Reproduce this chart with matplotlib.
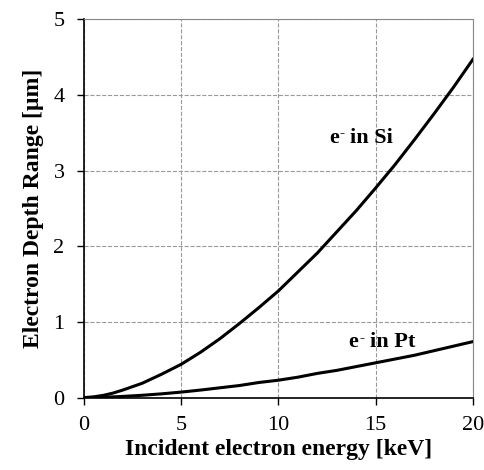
import matplotlib
matplotlib.use("Agg")
import matplotlib.pyplot as plt
from matplotlib.transforms import offset_copy

energy_kev = [0, 0.5, 1, 1.5, 2, 3, 4, 5, 6, 7, 8, 9, 10,
              11, 12, 13, 14, 15, 16, 17, 18, 19, 20]
depth_si = [0, 0.01, 0.03, 0.06, 0.10, 0.19, 0.31, 0.44, 0.60, 0.78, 0.98, 1.19, 1.41,
            1.66, 1.91, 2.19, 2.47, 2.77, 3.08, 3.41, 3.75, 4.10, 4.47]
depth_pt = [0, 0.002, 0.005, 0.01, 0.016, 0.031, 0.05, 0.073, 0.10, 0.13, 0.16, 0.20, 0.23,
            0.27, 0.32, 0.36, 0.41, 0.46, 0.51, 0.56, 0.62, 0.68, 0.74]
xticks = [0, 5, 10, 15, 20]
yticks = [0, 1, 2, 3, 4, 5]
labels = [("Si", 12.6, 3.43), ("Pt", 13.6, 0.73)]

plt.rcParams['font.family'] = ['Liberation Serif', 'DejaVu Serif']

fig = plt.figure(figsize=(4.85, 4.70), dpi=100)
ax = fig.add_axes([0.173, 0.154, 0.802, 0.805])

ax.plot(energy_kev, depth_si, color='black', lw=2.2)
ax.plot(energy_kev, depth_pt, color='black', lw=2.2)

ax.set_xlim(0, 20)
ax.set_ylim(0, 5)
ax.set_xticks(xticks)
ax.set_yticks(yticks)
ax.tick_params(labelsize=16, direction='out', length=5, width=1)
ax.tick_params(axis='x', pad=8)
ax.tick_params(axis='y', pad=9)
ax.grid(True, color='#999999', linestyle='--', linewidth=0.8)
ax.set_axisbelow(True)
for s in ['top', 'right']:
    ax.spines[s].set_color('#888888')
for s in ['left', 'bottom']:
    ax.spines[s].set_color('black')
    ax.spines[s].set_linewidth(1.2)

ax.set_xlabel('Incident electron energy [keV]', fontsize=17, fontweight='bold', labelpad=3)
ax.set_ylabel('Electron Depth Range [µm]', fontsize=17, fontweight='bold', labelpad=7)

for name, x, y in labels:
    ax.text(x, y, 'e', fontsize=16, fontweight='bold', va='center', ha='left')
    t1 = offset_copy(ax.transData, fig=fig, x=7.8, y=3.0, units='points')
    ax.text(x, y, '-', fontsize=11, fontweight='bold', va='center', ha='left', transform=t1)
    t2 = offset_copy(ax.transData, fig=fig, x=15.5, y=0, units='points')
    ax.text(x, y, 'in ' + name, fontsize=16, fontweight='bold', va='center', ha='left', transform=t2)

fig.savefig('out.png', dpi=100)
